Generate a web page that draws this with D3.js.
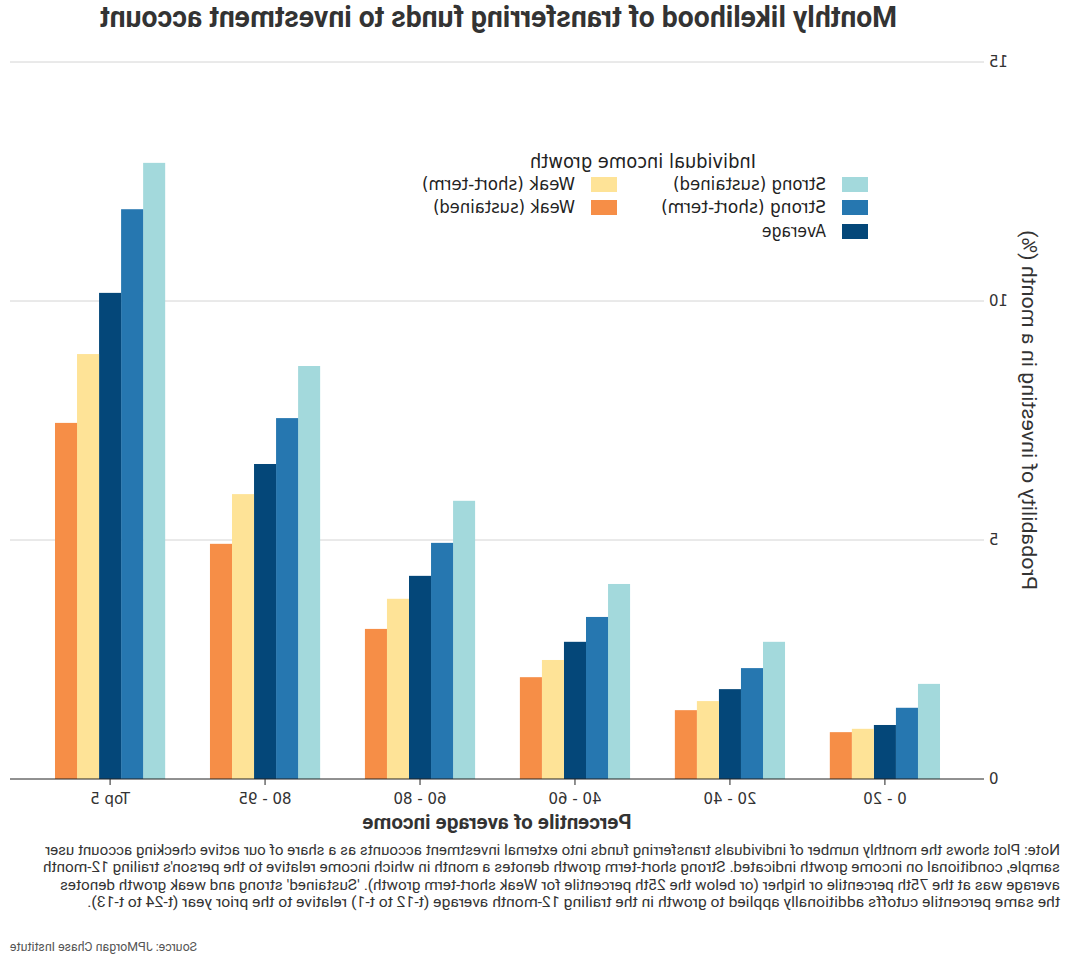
<!DOCTYPE html>
<html>
<head>
<meta charset="utf-8">
<script src="https://cdn.jsdelivr.net/npm/d3@7"></script>
<style>
  html, body { margin: 0; padding: 0; background: #fff; }
  svg { display: block; }
</style>
</head>
<body>
<svg id="chart" width="1070" height="962"></svg>
<script>
// ---- data ----
const categories = ["0 - 20", "20 - 40", "40 - 60", "60 - 80", "80 - 95", "Top 5"];
const seriesNames = ["Strong (sustained)", "Strong (short-term)", "Average", "Weak (short-term)", "Weak (sustained)"];
const strongSustained = [1.99, 2.87, 4.08, 5.82, 8.64, 12.89];
const strongShortTerm = [1.49, 2.32, 3.39, 4.94, 7.55, 11.92];
const averageVals     = [1.13, 1.88, 2.87, 4.25, 6.59, 10.17];
const weakShortTerm   = [1.05, 1.63, 2.49, 3.77, 5.96, 8.89];
const weakSustained   = [0.98, 1.44, 2.13, 3.14, 4.92, 7.45];
const yTicks = [0, 5, 10, 15];
const seriesColors = ["#a3d9dc", "#2677b0", "#044779", "#fee397", "#f68e47"];
const titleText = "Monthly likelihood of transferring funds to investment account";
const xTitle = "Percentile of average income";
const yTitle = "Probability of investing in a month (%)";
const legendTitle = "Individual income growth";
const noteLines = [
  "Note: Plot shows the monthly number of individuals transferring funds into external investment accounts as a share of our active checking account user",
  "sample, conditional on income growth indicated. Strong short-term growth denotes a month in which income relative to the person's trailing 12-month",
  "average was at the 75th percentile or higher (or below the 25th percentile for Weak short-term growth). 'Sustained' strong and weak growth denotes",
  "the same percentile cutoffs additionally applied to growth in the trailing 12-month average (t-12 to t-1) relative to the prior year (t-24 to t-13)."
];
const sourceText = "Source: JPMorgan Chase Institute";

const allSeries = [strongSustained, strongShortTerm, averageVals, weakShortTerm, weakSustained];
const table = categories.map((c, i) => ({
  cat: c,
  vals: seriesNames.map((s, k) => ({ name: s, value: allSeries[k][i], color: seriesColors[k] }))
}));

// ---- drawing (drawn un-mirrored, then the whole chart is flipped horizontally) ----
const svg = d3.select("#chart");
const root = svg.append("g").attr("transform", "translate(1070,0) scale(-1,1)");

const plotLeft = 86, plotRight = 1060;
const y = d3.scaleLinear().domain([0, 15]).range([779, 62]);
const x0 = d3.scaleBand().domain(categories).range([107.6, 1037.4]).paddingInner(0.289).paddingOuter(0.1445);
const x1 = d3.scaleBand().domain(seriesNames).range([0, x0.bandwidth()]);

const narrow = "Roboto, 'Liberation Sans', sans-serif";

// gridlines
root.append("g").selectAll("line").data(yTicks.filter(d => d > 0)).join("line")
  .attr("x1", plotLeft).attr("x2", plotRight)
  .attr("y1", d => y(d)).attr("y2", d => y(d))
  .attr("stroke", "#d4d4d4").attr("stroke-width", 1);

// bars
const groups = root.append("g").selectAll("g").data(table).join("g")
  .attr("transform", d => `translate(${x0(d.cat)},0)`);
groups.selectAll("rect").data(d => d.vals).join("rect")
  .attr("x", d => x1(d.name))
  .attr("width", x1.bandwidth())
  .attr("y", d => y(d.value))
  .attr("height", d => y(0) - y(d.value))
  .attr("fill", d => d.color);

// zero line
root.append("line")
  .attr("x1", plotLeft).attr("x2", plotRight)
  .attr("y1", y(0)).attr("y2", y(0))
  .attr("stroke", "#222").attr("stroke-width", 1);

// y axis
const yAxis = root.append("g").attr("transform", `translate(${plotLeft},0)`)
  .call(d3.axisLeft(y).tickValues(yTicks).tickSize(0).tickPadding(5));
yAxis.select(".domain").remove();
yAxis.selectAll("text").attr("font-family", "'DejaVu Sans', sans-serif").attr("font-size", 15).attr("fill", "#333");

// x axis
const xAxis = root.append("g").attr("transform", `translate(0,${y(0)})`)
  .call(d3.axisBottom(x0).tickSize(6).tickPadding(8));
xAxis.select(".domain").remove();
xAxis.selectAll("line").attr("stroke", "#222");
xAxis.selectAll("text").attr("font-family", "'DejaVu Sans', sans-serif").attr("font-size", 15).attr("fill", "#333");

// title
root.append("text")
  .attr("x", 173).attr("y", 27)
  .attr("textLength", 797).attr("lengthAdjust", "spacingAndGlyphs")
  .attr("font-family", narrow).attr("font-weight", "bold").attr("font-size", 29)
  .attr("fill", "#333").text(titleText);

// x title
root.append("text")
  .attr("x", 573).attr("y", 829).attr("text-anchor", "middle")
  .attr("textLength", 269).attr("lengthAdjust", "spacingAndGlyphs")
  .attr("font-family", narrow).attr("font-weight", "bold").attr("font-size", 21)
  .attr("fill", "#333").text(xTitle);

// y title
root.append("text")
  .attr("transform", "translate(48,410) rotate(-90)")
  .attr("text-anchor", "middle")
  .attr("textLength", 360).attr("lengthAdjust", "spacingAndGlyphs")
  .attr("font-family", narrow).attr("font-size", 21)
  .attr("fill", "#333").text(yTitle);

// legend
const legend = root.append("g");
legend.append("text")
  .attr("x", 314).attr("y", 168)
  .attr("textLength", 226).attr("lengthAdjust", "spacingAndGlyphs")
  .attr("font-family", "'DejaVu Sans', sans-serif").attr("font-size", 19)
  .attr("fill", "#222").text(legendTitle);
const legendPos = [
  { col: 0, row: 0, w: 153 }, { col: 0, row: 1, w: 165 }, { col: 0, row: 2, w: 64 },
  { col: 1, row: 0, w: 153 }, { col: 1, row: 1, w: 142 }
];
const colX = [202, 453], rowY = [177, 200, 224];
const items = legend.selectAll("g.item").data(seriesNames).join("g").attr("class", "item")
  .attr("transform", (d, i) => `translate(${colX[legendPos[i].col]},${rowY[legendPos[i].row]})`);
items.append("rect").attr("width", 26).attr("height", 15).attr("fill", (d, i) => seriesColors[i]);
items.append("text").attr("x", 42).attr("y", 13)
  .attr("textLength", (d, i) => legendPos[i].w).attr("lengthAdjust", "spacingAndGlyphs")
  .attr("font-family", "'DejaVu Sans', sans-serif").attr("font-size", 17.5)
  .attr("fill", "#222").text(d => d);

// note
const noteW = [1015, 1017, 1000, 973];
root.append("g").selectAll("text").data(noteLines).join("text")
  .attr("x", 10).attr("y", (d, i) => 855 + i * 17.4)
  .attr("textLength", (d, i) => noteW[i]).attr("lengthAdjust", "spacingAndGlyphs")
  .attr("font-family", narrow).attr("font-size", 15.5)
  .attr("fill", "#333").text(d => d);

// source
root.append("text")
  .attr("x", 1060).attr("y", 951).attr("text-anchor", "end")
  .attr("textLength", 187).attr("lengthAdjust", "spacingAndGlyphs")
  .attr("font-family", narrow).attr("font-size", 13)
  .attr("fill", "#555").text(sourceText);
</script>
</body>
</html>
